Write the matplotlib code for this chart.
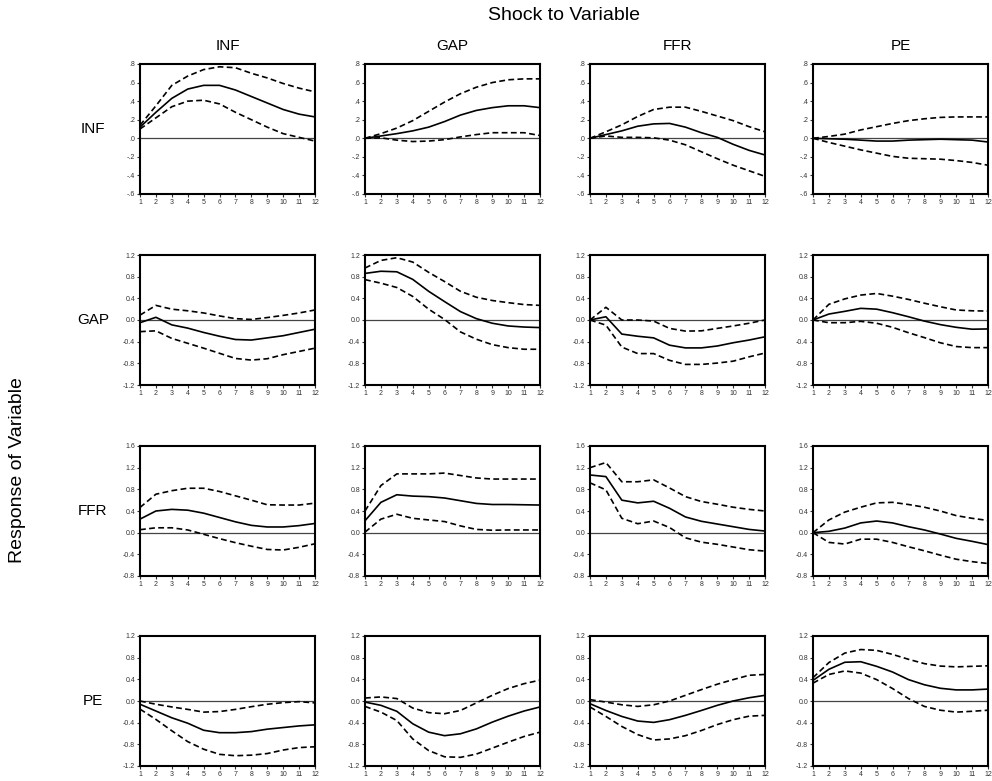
import numpy as np
import matplotlib
matplotlib.use("Agg")
import matplotlib.pyplot as plt

plt.rcParams['font.family'] = ['Liberation Sans', 'DejaVu Sans']

# =========================
# DATA
# =========================
variables = ["INF", "GAP", "FFR", "PE"]
periods = list(range(1, 13))

# row INF (response of INF)
inf_inf = [0.12, 0.28, 0.43, 0.53, 0.57, 0.57, 0.52, 0.45, 0.38, 0.31, 0.26, 0.23]
inf_inf_hi = [0.14, 0.35, 0.57, 0.67, 0.74, 0.77, 0.76, 0.70, 0.65, 0.59, 0.54, 0.50]
inf_inf_lo = [0.10, 0.22, 0.34, 0.40, 0.41, 0.37, 0.28, 0.20, 0.12, 0.05, 0.01, -0.03]

inf_gap = [0.0, 0.025, 0.05, 0.08, 0.12, 0.18, 0.25, 0.30, 0.33, 0.35, 0.35, 0.33]
inf_gap_hi = [0.0, 0.05, 0.11, 0.19, 0.29, 0.39, 0.48, 0.55, 0.60, 0.63, 0.64, 0.64]
inf_gap_lo = [0.0, 0.005, -0.02, -0.035, -0.03, -0.015, 0.015, 0.04, 0.06, 0.06, 0.06, 0.03]

inf_ffr = [0.0, 0.04, 0.08, 0.13, 0.155, 0.16, 0.12, 0.06, 0.01, -0.065, -0.13, -0.18]
inf_ffr_hi = [0.0, 0.07, 0.145, 0.235, 0.31, 0.335, 0.335, 0.29, 0.24, 0.19, 0.125, 0.07]
inf_ffr_lo = [0.0, 0.025, 0.01, 0.01, 0.005, -0.02, -0.07, -0.145, -0.22, -0.29, -0.35, -0.41]

inf_pe = [0.0, -0.005, -0.01, -0.02, -0.03, -0.03, -0.02, -0.015, -0.01, -0.015, -0.02, -0.04]
inf_pe_hi = [0.0, 0.02, 0.045, 0.09, 0.125, 0.16, 0.19, 0.21, 0.225, 0.23, 0.23, 0.23]
inf_pe_lo = [0.0, -0.045, -0.085, -0.125, -0.16, -0.195, -0.215, -0.22, -0.225, -0.24, -0.26, -0.29]

# row GAP
gap_inf = [-0.05, 0.05, -0.09, -0.15, -0.23, -0.30, -0.36, -0.37, -0.33, -0.29, -0.23, -0.17]
gap_inf_hi = [0.09, 0.27, 0.20, 0.17, 0.13, 0.075, 0.025, 0.01, 0.045, 0.085, 0.13, 0.185]
gap_inf_lo = [-0.215, -0.20, -0.34, -0.43, -0.52, -0.615, -0.71, -0.74, -0.715, -0.64, -0.58, -0.52]

gap_gap = [0.86, 0.90, 0.89, 0.75, 0.53, 0.34, 0.155, 0.025, -0.06, -0.11, -0.13, -0.14]
gap_gap_hi = [0.96, 1.10, 1.15, 1.07, 0.88, 0.71, 0.53, 0.42, 0.36, 0.32, 0.285, 0.27]
gap_gap_lo = [0.745, 0.68, 0.60, 0.435, 0.20, 0.01, -0.22, -0.355, -0.455, -0.51, -0.54, -0.54]

gap_ffr = [0.0, 0.06, -0.26, -0.30, -0.33, -0.465, -0.515, -0.515, -0.48, -0.42, -0.37, -0.31]
gap_ffr_hi = [0.0, 0.235, 0.0, 0.0, -0.02, -0.155, -0.205, -0.2, -0.155, -0.11, -0.06, 0.0]
gap_ffr_lo = [0.0, -0.095, -0.50, -0.62, -0.62, -0.745, -0.82, -0.82, -0.795, -0.76, -0.68, -0.61]

gap_pe = [0.0, 0.11, 0.16, 0.215, 0.20, 0.135, 0.06, -0.02, -0.085, -0.135, -0.17, -0.165]
gap_pe_hi = [0.0, 0.29, 0.39, 0.46, 0.49, 0.44, 0.38, 0.31, 0.245, 0.185, 0.17, 0.165]
gap_pe_lo = [0.0, -0.05, -0.05, -0.025, -0.06, -0.135, -0.235, -0.325, -0.42, -0.49, -0.51, -0.51]

# row FFR
ffr_inf = [0.25, 0.40, 0.43, 0.415, 0.36, 0.28, 0.20, 0.135, 0.105, 0.105, 0.13, 0.17]
ffr_inf_hi = [0.465, 0.71, 0.775, 0.82, 0.82, 0.76, 0.68, 0.60, 0.515, 0.51, 0.51, 0.545]
ffr_inf_lo = [0.055, 0.09, 0.09, 0.05, -0.03, -0.11, -0.185, -0.25, -0.31, -0.32, -0.27, -0.205]

ffr_gap = [0.22, 0.56, 0.70, 0.675, 0.665, 0.64, 0.59, 0.54, 0.52, 0.52, 0.515, 0.51]
ffr_gap_hi = [0.40, 0.87, 1.085, 1.085, 1.085, 1.10, 1.055, 1.01, 0.99, 0.99, 0.99, 0.99]
ffr_gap_lo = [0.01, 0.25, 0.34, 0.265, 0.235, 0.205, 0.125, 0.06, 0.045, 0.05, 0.05, 0.05]

ffr_ffr = [1.065, 1.035, 0.60, 0.55, 0.58, 0.45, 0.29, 0.21, 0.16, 0.11, 0.06, 0.03]
ffr_ffr_hi = [1.20, 1.295, 0.94, 0.94, 0.975, 0.825, 0.665, 0.575, 0.525, 0.47, 0.43, 0.40]
ffr_ffr_lo = [0.92, 0.79, 0.265, 0.165, 0.215, 0.095, -0.095, -0.175, -0.215, -0.265, -0.315, -0.34]

ffr_pe = [0.0, 0.025, 0.085, 0.18, 0.215, 0.18, 0.11, 0.05, -0.025, -0.105, -0.16, -0.22]
ffr_pe_hi = [0.0, 0.235, 0.38, 0.47, 0.55, 0.56, 0.52, 0.47, 0.40, 0.315, 0.265, 0.225]
ffr_pe_lo = [0.0, -0.18, -0.21, -0.12, -0.12, -0.18, -0.26, -0.335, -0.415, -0.49, -0.535, -0.57]

# row PE
pe_inf = [-0.06, -0.185, -0.31, -0.41, -0.54, -0.585, -0.585, -0.565, -0.52, -0.49, -0.46, -0.44]
pe_inf_hi = [0.0, -0.06, -0.11, -0.155, -0.205, -0.195, -0.155, -0.105, -0.06, -0.03, -0.012, -0.035]
pe_inf_lo = [-0.15, -0.34, -0.55, -0.75, -0.89, -0.985, -1.01, -1.0, -0.97, -0.905, -0.86, -0.845]

pe_gap = [-0.02, -0.08, -0.19, -0.42, -0.575, -0.64, -0.605, -0.515, -0.39, -0.28, -0.185, -0.11]
pe_gap_hi = [0.055, 0.075, 0.045, -0.13, -0.215, -0.235, -0.175, -0.035, 0.105, 0.23, 0.32, 0.385]
pe_gap_lo = [-0.10, -0.205, -0.36, -0.70, -0.915, -1.03, -1.04, -0.98, -0.87, -0.76, -0.655, -0.575]

pe_ffr = [-0.05, -0.175, -0.285, -0.37, -0.395, -0.345, -0.265, -0.175, -0.08, 0.0, 0.06, 0.105]
pe_ffr_hi = [0.025, -0.02, -0.07, -0.10, -0.07, 0.0, 0.105, 0.21, 0.31, 0.395, 0.475, 0.49]
pe_ffr_lo = [-0.11, -0.285, -0.47, -0.62, -0.72, -0.70, -0.64, -0.545, -0.435, -0.345, -0.28, -0.265]

pe_pe = [0.38, 0.585, 0.715, 0.725, 0.64, 0.535, 0.395, 0.30, 0.235, 0.205, 0.205, 0.22]
pe_pe_hi = [0.43, 0.71, 0.885, 0.95, 0.935, 0.86, 0.77, 0.69, 0.645, 0.63, 0.64, 0.65]
pe_pe_lo = [0.33, 0.49, 0.555, 0.515, 0.395, 0.23, 0.045, -0.10, -0.17, -0.205, -0.19, -0.17]

panels = [
    [(inf_inf, inf_inf_hi, inf_inf_lo), (inf_gap, inf_gap_hi, inf_gap_lo),
     (inf_ffr, inf_ffr_hi, inf_ffr_lo), (inf_pe, inf_pe_hi, inf_pe_lo)],
    [(gap_inf, gap_inf_hi, gap_inf_lo), (gap_gap, gap_gap_hi, gap_gap_lo),
     (gap_ffr, gap_ffr_hi, gap_ffr_lo), (gap_pe, gap_pe_hi, gap_pe_lo)],
    [(ffr_inf, ffr_inf_hi, ffr_inf_lo), (ffr_gap, ffr_gap_hi, ffr_gap_lo),
     (ffr_ffr, ffr_ffr_hi, ffr_ffr_lo), (ffr_pe, ffr_pe_hi, ffr_pe_lo)],
    [(pe_inf, pe_inf_hi, pe_inf_lo), (pe_gap, pe_gap_hi, pe_gap_lo),
     (pe_ffr, pe_ffr_hi, pe_ffr_lo), (pe_pe, pe_pe_hi, pe_pe_lo)],
]

# y axis ticks per row
row_ticks = [
    [-0.6, -0.4, -0.2, 0.0, 0.2, 0.4, 0.6, 0.8],
    [-1.2, -0.8, -0.4, 0.0, 0.4, 0.8, 1.2],
    [-0.8, -0.4, 0.0, 0.4, 0.8, 1.2, 1.6],
    [-1.2, -0.8, -0.4, 0.0, 0.4, 0.8, 1.2],
]


def fmt_short(v):
    # EViews style: ".8", "-.2", ".0"
    s = f"{v:.1f}"
    return s.replace("0.", ".")


# =========================
# FIGURE
# =========================
W, H = 992, 781
fig = plt.figure(figsize=(W / 100, H / 100), dpi=100)

col_left = [140, 365, 590, 813]
row_top = [64, 255, 446, 636]
ax_w, ax_h = 175, 130

for r in range(4):
    for c in range(4):
        ax = fig.add_axes([col_left[c] / W, 1 - (row_top[r] + ax_h) / H, ax_w / W, ax_h / H])
        mid, hi, lo = panels[r][c]
        ax.axhline(0, color="#444444", lw=0.9, zorder=1)
        ax.plot(periods, hi, color="black", lw=1.2, dashes=(3.5, 2))
        ax.plot(periods, lo, color="black", lw=1.2, dashes=(3.5, 2))
        ax.plot(periods, mid, color="black", lw=1.2)

        ticks = row_ticks[r]
        ax.set_xlim(1, 12)
        ax.set_ylim(ticks[0], ticks[-1])
        ax.set_xticks(periods)
        ax.set_xticklabels([str(p) for p in periods])
        ax.set_yticks(ticks)
        if r == 0:
            ax.set_yticklabels([fmt_short(t) for t in ticks])
        else:
            ax.set_yticklabels([f"{t:.1f}" for t in ticks])
        ax.tick_params(direction="out", length=2.5, width=0.8, labelsize=5,
                       pad=1, colors="#333333")
        for sp in ax.spines.values():
            sp.set_linewidth(1.5)

        if r == 0:
            ax.set_title(variables[c], fontsize=11, pad=10)
        if c == 0:
            ax.text(-0.27, 0.5, variables[r], transform=ax.transAxes,
                    fontsize=11, ha="center", va="center")

fig.text((140 + 988) / 2 / W, 1 - 15 / H, "Shock to Variable",
         fontsize=14, ha="center", va="center")
fig.text(18 / W, 1 - 470 / H, "Response of Variable",
         fontsize=14, ha="center", va="center", rotation=90)

fig.savefig("out.png", dpi=100)
